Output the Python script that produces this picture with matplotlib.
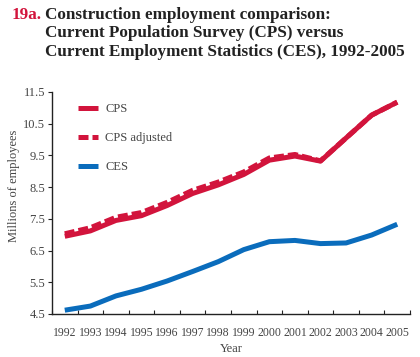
import numpy as np
import matplotlib
matplotlib.use("Agg")
import matplotlib.pyplot as plt

years = np.arange(1992, 2006)
cps = [6.95, 7.12, 7.45, 7.60, 7.92, 8.30, 8.57, 8.90, 9.35, 9.48, 9.32, 10.05, 10.77, 11.18]
cps_adj = [7.03, 7.22, 7.55, 7.70, 8.02, 8.40, 8.66, 8.98, 9.42, 9.53, 9.33, 10.05, 10.77, 11.18]
ces = [4.62, 4.75, 5.07, 5.28, 5.54, 5.84, 6.15, 6.53, 6.78, 6.82, 6.72, 6.74, 6.99, 7.33]
yticks = [4.5, 5.5, 6.5, 7.5, 8.5, 9.5, 10.5, 11.5]

red = "#d2143c"
blue = "#0a6cbc"
grey = "#444444"

plt.rcParams["font.family"] = ["Liberation Serif", "DejaVu Serif"]

fig = plt.figure(figsize=(4.2, 3.57), dpi=100)
ax = fig.add_axes([52 / 420, 1 - 314 / 357, (410 - 52) / 420, (314 - 92) / 357])

ax.plot(years, cps, color=red, lw=3.6, solid_capstyle="butt", label="CPS")
ax.plot(years, cps_adj, color=red, lw=3.6, dashes=(2, 0.8), label="CPS adjusted")
ax.plot(years, ces, color=blue, lw=3.6, solid_capstyle="butt", label="CES")

ax.set_xlim(1991.5, 2005.5)
ax.set_ylim(4.5, 11.5)
ax.set_yticks(yticks)
ax.set_yticklabels([f"{v:.1f}" for v in yticks])
ax.set_xticks(np.arange(1991.5, 2006, 1))
ax.set_xticklabels([])
ax.set_xticks(years, minor=True)
ax.set_xticklabels([str(y) for y in years], minor=True)
ax.tick_params(axis="x", which="major", direction="in", length=3, width=0.8, color="#222222")
ax.tick_params(axis="x", which="minor", length=0, pad=9, labelsize=8.5, labelcolor=grey)
ax.tick_params(axis="y", direction="out", length=3, width=0.8, color="#222222",
               labelsize=9, labelcolor=grey, pad=2)
for s in ["top", "right"]:
    ax.spines[s].set_visible(False)
for s in ["left", "bottom"]:
    ax.spines[s].set_linewidth(1.0)
    ax.spines[s].set_color("#222222")

ax.set_xlabel("Year", fontsize=9, color=grey, labelpad=3)
ax.set_ylabel("Millions of employees", fontsize=9, color=grey)
ax.yaxis.set_label_coords(-0.089, 0.577)

leg = ax.legend(loc="upper left", bbox_to_anchor=(0.04, 1.0), frameon=False,
                fontsize=9, handlelength=1.6, handletextpad=0.6, labelspacing=1.35)
for t in leg.get_texts():
    t.set_color(grey)

fig.text(12 / 420, 1 - 7 / 357, "19a.", color=red, fontsize=12.3, fontweight="bold", va="top")
fig.text(45 / 420, 1 - 7 / 357,
         "Construction employment comparison:\n"
         "Current Population Survey (CPS) versus\n"
         "Current Employment Statistics (CES), 1992-2005",
         color="#222222", fontsize=12.3, fontweight="bold", va="top", linespacing=1.2)

fig.savefig("out.png", dpi=100)
